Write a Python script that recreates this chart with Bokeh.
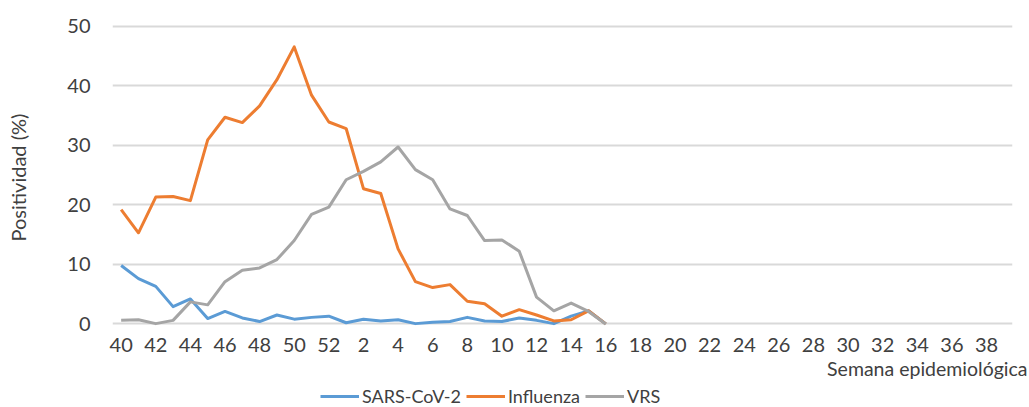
from bokeh.plotting import figure
from bokeh.models import Range1d, FixedTicker, Legend, LegendItem, Label
from bokeh.layouts import column
from bokeh.embed import file_html
from bokeh.resources import INLINE

# ---- data ----
axis_weeks = list(range(40, 53)) + list(range(1, 40))
data_weeks = list(range(40, 53)) + list(range(1, 17))
sars_cov_2 = [9.8, 7.6, 6.3, 2.9, 4.2, 0.9, 2.1, 1.0, 0.4, 1.5, 0.8, 1.1, 1.3,
              0.2, 0.8, 0.5, 0.7, 0.05, 0.3, 0.4, 1.1, 0.5, 0.4, 1.0, 0.6, 0.05, 1.3, 2.2, 0.0]
influenza = [19.2, 15.3, 21.3, 21.4, 20.7, 30.9, 34.7, 33.8, 36.6, 41.0, 46.5, 38.4, 33.9,
             32.8, 22.7, 21.9, 12.6, 7.1, 6.1, 6.6, 3.8, 3.4, 1.3, 2.4, 1.5, 0.5, 0.7, 2.2, 0.0]
vrs = [0.6, 0.7, 0.05, 0.6, 3.7, 3.2, 7.1, 9.0, 9.4, 10.8, 14.0, 18.4, 19.6,
       24.2, 25.6, 27.2, 29.7, 25.9, 24.2, 19.3, 18.2, 14.0, 14.1, 12.2, 4.5, 2.2, 3.5, 2.1, 0.0]
series_names = ["SARS-CoV-2", "Influenza", "VRS"]
y_ticks = [0, 10, 20, 30, 40, 50]

FONT = "Lato"
TXT = "#404040"
colors = ["#5B9BD5", "#ED7D31", "#A5A5A5"]
series = [sars_cov_2, influenza, vrs]

x_idx = [i if i < 13 else 13 + axis_weeks[13:].index(w) for i, w in enumerate(data_weeks)]

# ---- main chart ----
p = figure(width=1029, height=358, output_backend="svg", toolbar_location=None,
           x_range=Range1d(-0.5, len(axis_weeks) - 0.5), y_range=Range1d(-0.6, 50.6),
           min_border_left=112, min_border_right=17, min_border_top=22, min_border_bottom=31)
p.frame_align = False
p.outline_line_color = None
p.background_fill_color = "white"
p.border_fill_color = "white"

p.xaxis.ticker = FixedTicker(ticks=list(range(0, len(axis_weeks), 2)))
p.xaxis.major_label_overrides = {i: str(w) for i, w in enumerate(axis_weeks)}
p.yaxis.ticker = FixedTicker(ticks=y_ticks)
for ax in (p.xaxis[0], p.yaxis[0]):
    ax.axis_line_color = None
    ax.major_tick_line_color = None
    ax.minor_tick_line_color = None
    ax.major_tick_out = 0
    ax.major_tick_in = 0
    ax.major_label_text_font = FONT
    ax.major_label_text_font_size = "20px"
    ax.major_label_text_color = TXT
p.xaxis.major_label_standoff = 10
p.yaxis.major_label_standoff = 22
p.yaxis.axis_label = "Positividad  (%)"
p.yaxis.axis_label_text_font = FONT
p.yaxis.axis_label_text_font_size = "20px"
p.yaxis.axis_label_text_color = TXT
p.yaxis.axis_label_text_font_style = "normal"
p.yaxis.axis_label_standoff = 34

p.xgrid.grid_line_color = None
p.ygrid.grid_line_color = "#D9D9D9"
p.ygrid.grid_line_width = 2

for vals, c in zip(series, colors):
    p.line(x_idx, vals, line_color=c, line_width=3, line_join="round")

# ---- footer: axis title + legend ----
f = figure(width=1029, height=49, output_backend="svg", toolbar_location=None,
           x_range=Range1d(0, 1029), y_range=Range1d(1000, 1049),
           x_axis_location=None, y_axis_location=None,
           min_border_left=0, min_border_right=0, min_border_top=0, min_border_bottom=0)
f.frame_align = False
f.outline_line_color = None
f.xgrid.visible = False
f.ygrid.visible = False

leg_renderers = []
for vals, c in zip(series, colors):
    leg_renderers.append(f.line(x_idx, vals, line_color=c, line_width=3))

f.add_layout(Label(x=1027, y=1039, text="Semana epidemiológica", text_align="right",
                   text_baseline="alphabetic", text_font=FONT, text_font_size="19.5px",
                   text_color=TXT))

legend = Legend(items=[LegendItem(label=n, renderers=[r]) for n, r in zip(series_names, leg_renderers)],
                orientation="horizontal", location=(320, 0),
                glyph_width=39, glyph_height=18, label_standoff=3, spacing=5, padding=0, margin=0,
                label_text_font=FONT, label_text_font_size="18px", label_text_color=TXT,
                border_line_color=None, background_fill_alpha=0)
f.add_layout(legend, "center")

open("out.html", "w").write(file_html(column(p, f, spacing=0), INLINE))
